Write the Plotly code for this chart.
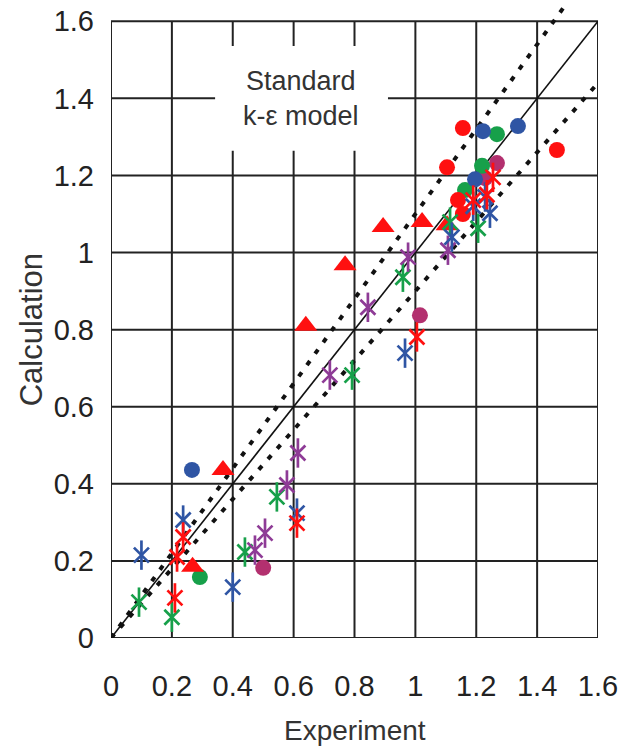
import plotly.graph_objects as go

# Axis ticks
tick_vals = [0, 0.2, 0.4, 0.6, 0.8, 1.0, 1.2, 1.4, 1.6]
tick_text = ["0", "0.2", "0.4", "0.6", "0.8", "1", "1.2", "1.4", "1.6"]
axis_max = 1.6
band = 0.10          # +/-10 % deviation lines
upper_reach = 1.64   # upper band line runs slightly past the frame

# Circles
red_circle_x = [1.156, 1.104, 1.465, 1.140, 1.156]
red_circle_y = [1.323, 1.221, 1.266, 1.136, 1.100]
blue_circle_x = [0.266, 1.222, 1.337, 1.196]
blue_circle_y = [0.436, 1.315, 1.328, 1.190]
green_circle_x = [0.292, 1.268, 1.219, 1.163]
green_circle_y = [0.158, 1.307, 1.225, 1.162]
magenta_circle_x = [0.500, 1.015, 1.268, 1.229]
magenta_circle_y = [0.182, 0.837, 1.232, 1.193]

# Triangles
red_triangle_x = [0.268, 0.368, 0.640, 0.769, 0.894, 1.022, 1.104]
red_triangle_y = [0.185, 0.436, 0.810, 0.967, 1.066, 1.079, 1.071]

# Stars
red_star_x = [0.217, 0.237, 0.210, 0.611, 1.005, 1.255, 1.190, 1.235]
red_star_y = [0.210, 0.262, 0.104, 0.298, 0.781, 1.195, 1.136, 1.150]
blue_star_x = [0.100, 0.237, 0.400, 0.611, 0.966, 1.229, 1.245, 1.190, 1.120]
blue_star_y = [0.215, 0.306, 0.132, 0.324, 0.739, 1.144, 1.102, 1.120, 1.040]
green_star_x = [0.092, 0.200, 0.440, 0.545, 0.792, 0.959, 1.114, 1.206]
green_star_y = [0.093, 0.054, 0.223, 0.366, 0.682, 0.936, 1.079, 1.063]
purple_star_x = [0.473, 0.506, 0.578, 0.614, 0.719, 0.844, 0.976, 1.107]
purple_star_y = [0.228, 0.272, 0.397, 0.480, 0.682, 0.858, 0.988, 1.006]

RED = "#FF1010"
BLUE = "#2F55A4"
GREEN = "#17A04A"
MAGENTA = "#B3306F"
PURPLE = "#8E3B96"
INK = "#222222"
FONT = "Liberation Sans, Arial, sans-serif"

fig = go.Figure()

# parity line and +/- band lines
fig.add_trace(go.Scatter(x=[0, axis_max], y=[0, axis_max], mode="lines",
                         line=dict(color="#111111", width=1.6), hoverinfo="skip"))
up = 1 + band
lo = 1 - band
fig.add_trace(go.Scatter(x=[0, upper_reach / up], y=[0, upper_reach], mode="lines",
                         line=dict(color="#111111", width=4, dash="5px,9px"), hoverinfo="skip"))
fig.add_trace(go.Scatter(x=[0, axis_max], y=[0, axis_max * lo], mode="lines",
                         line=dict(color="#111111", width=4, dash="5px,9px"), hoverinfo="skip"))

def circles(x, y, color):
    fig.add_trace(go.Scatter(x=x, y=y, mode="markers",
                             marker=dict(symbol="circle", size=16, color=color,
                                         line=dict(width=0))))

def stars(x, y, color):
    # six-armed star: a thin X crossed by a vertical stroke
    fig.add_trace(go.Scatter(x=x, y=y, mode="markers",
                             marker=dict(symbol="x-thin-open", size=15, color=color,
                                         line=dict(color=color, width=2.7))))
    fig.add_trace(go.Scatter(x=x, y=y, mode="markers",
                             marker=dict(symbol="line-ns-open", size=21, color=color,
                                         line=dict(color=color, width=2.7))))

circles(magenta_circle_x, magenta_circle_y, MAGENTA)
circles(green_circle_x, green_circle_y, GREEN)
circles(blue_circle_x, blue_circle_y, BLUE)
circles(red_circle_x, red_circle_y, RED)
fig.add_trace(go.Scatter(x=red_triangle_x, y=red_triangle_y, mode="markers",
                         marker=dict(symbol="triangle-up", size=20, color=RED,
                                     line=dict(width=0))))
stars(green_star_x, green_star_y, GREEN)
stars(purple_star_x, purple_star_y, PURPLE)
stars(blue_star_x, blue_star_y, BLUE)
stars(red_star_x, red_star_y, RED)

# grid and frame drawn from the tick values, clipped to the 0..1.6 square
shapes = []
for v in tick_vals:
    shapes.append(dict(type="line", xref="x", yref="y", x0=v, x1=v, y0=0, y1=axis_max,
                       line=dict(color=INK, width=2), layer="below"))
    shapes.append(dict(type="line", xref="x", yref="y", x0=0, x1=axis_max, y0=v, y1=v,
                       line=dict(color=INK, width=2), layer="below"))
# white panel behind the model label
shapes.append(dict(type="rect", xref="x", yref="y", x0=0.342, x1=0.91, y0=1.264, y1=1.536,
                   fillcolor="white", line=dict(width=0), layer="below"))

fig.update_layout(
    width=619, height=749,
    margin=dict(l=111, r=21, t=2, b=111),
    paper_bgcolor="white", plot_bgcolor="white",
    showlegend=False,
    shapes=shapes,
    font=dict(family=FONT, color=INK),
    xaxis=dict(range=[0, axis_max], showgrid=False, zeroline=False, showline=False,
               tickmode="array", tickvals=tick_vals, ticktext=tick_text,
               ticks="", ticklabelstandoff=28, ticklabeloverflow="allow",
               tickfont=dict(family=FONT, size=29, color=INK)),
    yaxis=dict(range=[0, 1.65], showgrid=False, zeroline=False, showline=False,
               tickmode="array", tickvals=tick_vals, ticktext=tick_text,
               ticks="", ticklabelstandoff=16, ticklabeloverflow="allow",
               tickfont=dict(family=FONT, size=29, color=INK)),
    annotations=[
        dict(x=0.625, y=1.40, xref="x", yref="y", text="Standard<br>k-ε model",
             showarrow=False, font=dict(family=FONT, size=27, color="#333333")),
        dict(x=0.5, y=-0.145, xref="paper", yref="paper", text="Experiment",
             showarrow=False, yanchor="middle",
             font=dict(family=FONT, size=28, color="#333333")),
        dict(x=-0.164, y=0.484, xref="paper", yref="paper", text="Calculation",
             showarrow=False, textangle=-90, xanchor="center", yanchor="middle",
             font=dict(family=FONT, size=31, color="#333333")),
    ],
)

fig.write_html("out.html")
